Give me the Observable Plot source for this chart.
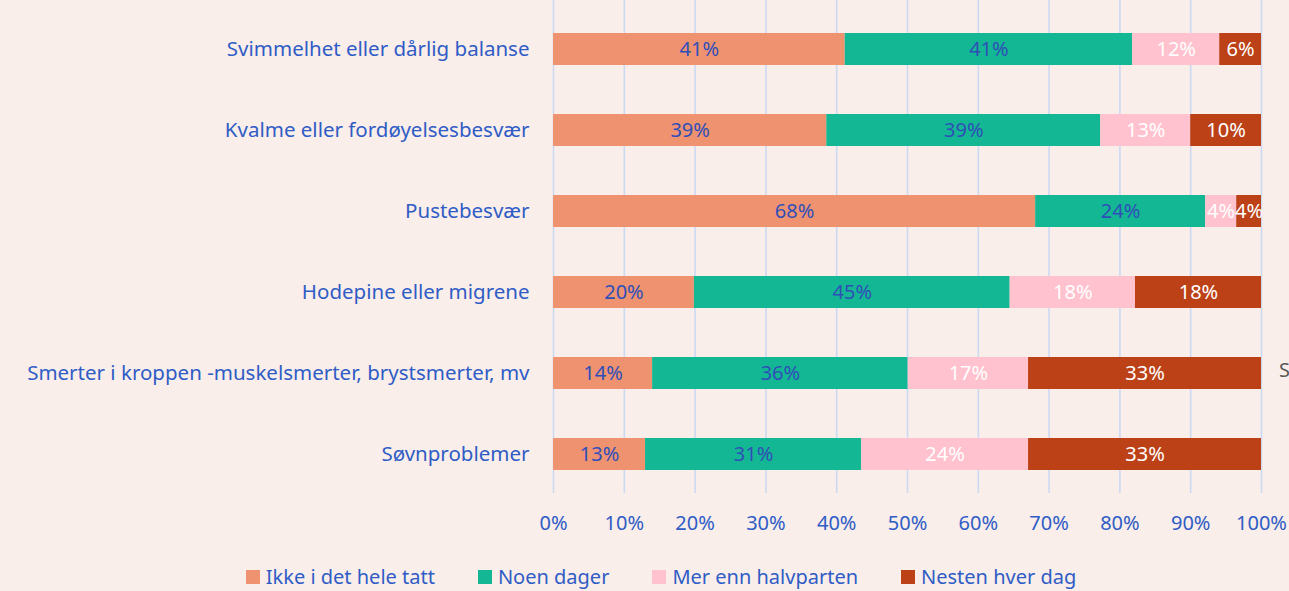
<!DOCTYPE html>
<html>
<head>
<meta charset="utf-8">
<script src="https://cdn.jsdelivr.net/npm/d3@7"></script>
<script src="https://cdn.jsdelivr.net/npm/@observablehq/plot@0.6"></script>
<style>
  html, body { margin: 0; padding: 0; background: #F9EEE9; }
  #wrap { position: relative; width: 1289px; height: 591px; overflow: hidden; background: #F9EEE9; font-family: "Noto Sans", Lato, sans-serif; }
  #legend { position: absolute; left: 0; top: 563px; width: 1289px; display: flex; justify-content: center; gap: 43px; font-size: 20px; color: #2F5CC6; padding-left: 33px; box-sizing: border-box; line-height: 28px; }
  #legend .item { display: flex; align-items: center; gap: 6px; }
  #legend .sw { width: 14px; height: 14px; display: inline-block; }
  #stray { position: absolute; left: 1279px; top: 356px; font-size: 20px; color: #595959; }
</style>
</head>
<body>
<div id="wrap">
  <div id="chart"></div>
  <div id="legend"></div>
  <div id="stray">S</div>
</div>
<script>
const categories = [
  "Svimmelhet eller dårlig balanse",
  "Kvalme eller fordøyelsesbesvær",
  "Pustebesvær",
  "Hodepine eller migrene",
  "Smerter i kroppen -muskelsmerter, brystsmerter, mv",
  "Søvnproblemer"
];
const seriesNames = ["Ikke i det hele tatt", "Noen dager", "Mer enn halvparten", "Nesten hver dag"];
const ikke   = [41.2, 38.6, 68.1, 19.9, 14.0, 13.0];
const noen   = [40.6, 38.7, 24.0, 44.6, 36.1, 30.5];
const mer    = [12.3, 12.7,  4.4, 17.7, 17.0, 23.6];
const nesten = [ 5.9, 10.0,  3.5, 17.8, 32.9, 32.9];
const xTicks = [0, 10, 20, 30, 40, 50, 60, 70, 80, 90, 100];

const colors = ["#EF9270", "#14B794", "#FFC2CE", "#BD4117"];
const labelColors = ["#2F4FB8", "#2F4FB8", "#FFFFFF", "#FFFFFF"];
const blue = "#2F5CC6";

const seriesValues = [ikke, noen, mer, nesten];
const data = [];
categories.forEach((c, i) => {
  seriesNames.forEach((s, j) => {
    data.push({cat: c, series: s, si: j, value: seriesValues[j][i]});
  });
});

const chart = Plot.plot({
  width: 1289,
  height: 555,
  marginLeft: 553,
  marginRight: 28,
  marginTop: 0,
  marginBottom: 62,
  style: {background: "transparent", fontFamily: "'Noto Sans', Lato, sans-serif", fontSize: "20px", color: blue},
  x: {domain: [0, 100], ticks: xTicks, tickFormat: d => d + "%", label: null, tickSize: 0, tickPadding: 22},
  y: {domain: categories, range: [33, 470], paddingInner: 0.605, paddingOuter: 0, label: null, tickSize: 0, tickPadding: 24},
  color: {domain: seriesNames, range: colors},
  marks: [
    Plot.ruleX(xTicks, {stroke: "#CCD9F3", strokeWidth: 1.6}),
    Plot.barX(data, {x: "value", y: "cat", fill: "series", order: seriesNames}),
    Plot.text(data, Plot.stackX({
      x: "value", y: "cat", z: "series", order: seriesNames,
      text: d => Math.round(d.value) + "%",
      fill: d => labelColors[d.si],
      fontSize: 20
    })),
    Plot.axisX({ticks: xTicks, tickFormat: d => d + "%", tickSize: 0, tickPadding: 22, fill: blue, fontSize: 20, label: null}),
    Plot.axisY({tickSize: 0, tickPadding: 24, fill: blue, fontSize: 20.5, label: null})
  ]
});
document.getElementById("chart").appendChild(chart);

const legend = document.getElementById("legend");
seriesNames.forEach((s, j) => {
  const it = document.createElement("div");
  it.className = "item";
  const sw = document.createElement("span");
  sw.className = "sw";
  sw.style.background = colors[j];
  const t = document.createElement("span");
  t.textContent = s;
  it.appendChild(sw);
  it.appendChild(t);
  legend.appendChild(it);
});
</script>
</body>
</html>
